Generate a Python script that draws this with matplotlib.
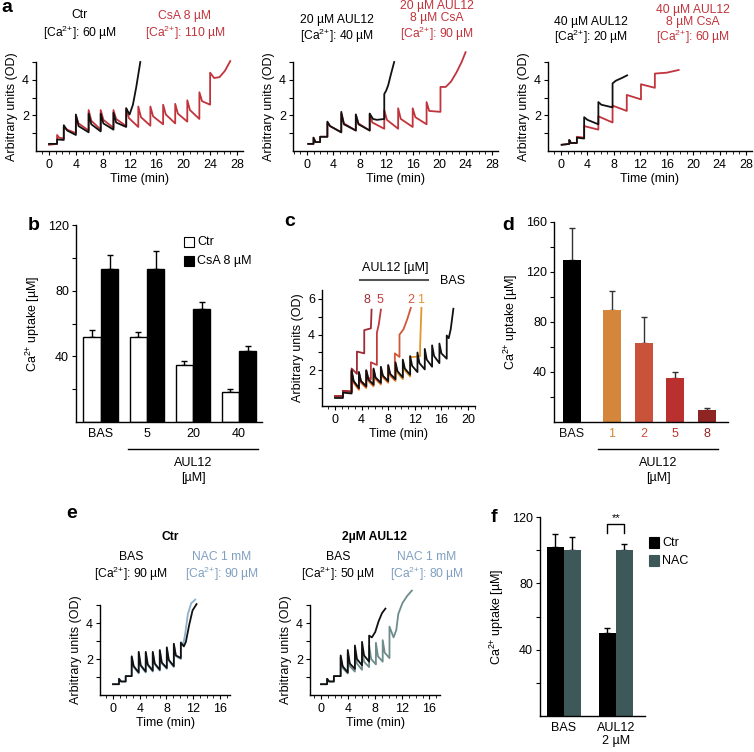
import numpy as np
import matplotlib
matplotlib.use('Agg')
import matplotlib.pyplot as plt
from matplotlib.lines import Line2D
from matplotlib.patches import Rectangle
from matplotlib.ticker import MultipleLocator

plt.rcParams.update({
    'font.family': ['Liberation Sans', 'DejaVu Sans'],
    'mathtext.fontset': 'custom',
    'mathtext.rm': 'Liberation Sans',
    'mathtext.it': 'Liberation Sans:italic',
    'mathtext.bf': 'Liberation Sans:bold',
    'font.size': 9,
    'axes.linewidth': 1.0,
    'xtick.major.size': 3, 'ytick.major.size': 3,
    'xtick.minor.size': 2, 'ytick.minor.size': 2,
    'xtick.major.pad': 2, 'ytick.major.pad': 2,
})

# ---------------- data ----------------
# panel a1
a1_ctr_t = [0.0, 1.2, 1.2, 2.2, 2.2, 2.7, 4.0, 4.0, 4.4, 5.9, 5.9, 6.3, 7.7, 7.7, 8.1, 9.6, 9.6, 10.0, 11.5, 11.5, 12.0, 12.5, 13.0, 13.6]
a1_ctr_y = [0.40, 0.40, 0.65, 0.62, 1.45, 1.15, 0.90, 2.05, 1.40, 1.05, 2.10, 1.50, 1.10, 2.10, 1.55, 1.20, 2.15, 1.60, 1.35, 2.40, 2.05, 2.60, 3.60, 5.00]
a1_csa_t = [0.0, 1.2, 1.2, 1.5, 2.2, 2.2, 2.7, 4.0, 4.0, 4.4, 5.9, 5.9, 6.3, 7.7, 7.7, 8.1, 9.6, 9.6, 10.0, 11.5, 11.5, 11.9, 13.3, 13.3, 13.7, 15.1, 15.1, 15.5, 17.0, 17.0, 17.4, 18.8, 18.8, 19.2, 20.6, 20.6, 21.0, 22.4, 22.4, 22.8, 24.0, 24.0, 24.6, 25.4, 26.2, 27.0]
a1_csa_y = [0.35, 0.40, 0.90, 0.75, 0.70, 1.35, 1.20, 1.00, 2.00, 1.55, 1.15, 2.30, 1.70, 1.20, 2.30, 1.75, 1.30, 2.30, 1.80, 1.40, 2.40, 1.85, 1.35, 2.50, 1.90, 1.42, 2.50, 1.95, 1.50, 2.60, 2.05, 1.55, 2.65, 2.10, 1.65, 2.85, 2.30, 1.80, 3.30, 2.80, 2.60, 4.40, 4.10, 4.15, 4.50, 5.05]
# panel a2
a2_ctr_t = [0.2, 1.0, 1.0, 1.3, 2.0, 2.0, 3.1, 3.1, 3.5, 5.2, 5.2, 5.6, 7.4, 7.4, 7.8, 9.5, 9.5, 10.0, 10.6, 11.7, 11.7, 12.0, 12.3, 12.7, 13.2]
a2_ctr_y = [0.40, 0.40, 0.75, 0.50, 0.50, 0.80, 0.80, 1.65, 1.40, 1.05, 2.20, 1.50, 1.15, 2.05, 1.50, 1.15, 2.10, 1.80, 1.75, 1.80, 3.20, 3.40, 3.70, 4.30, 5.00]
a2_csa_t = [0.2, 1.0, 1.0, 1.3, 2.0, 2.0, 3.1, 3.1, 3.5, 5.2, 5.2, 5.6, 7.4, 7.4, 7.8, 9.5, 9.5, 9.9, 11.7, 11.7, 12.1, 13.8, 13.8, 14.2, 16.0, 16.0, 16.4, 18.1, 18.1, 18.5, 20.2, 20.2, 21.0, 21.8, 22.6, 23.4, 24.0]
a2_csa_y = [0.40, 0.40, 0.75, 0.50, 0.50, 0.80, 0.80, 1.60, 1.40, 1.05, 2.10, 1.55, 1.15, 2.05, 1.55, 1.15, 2.10, 1.60, 1.25, 2.30, 1.75, 1.25, 2.40, 1.80, 1.35, 2.40, 1.90, 1.50, 2.75, 2.25, 2.20, 3.60, 3.60, 3.90, 4.40, 5.00, 5.55]
# panel a3
a3_ctr_t = [0.1, 1.25, 1.25, 1.5, 2.4, 2.4, 3.5, 3.5, 4.0, 5.65, 5.65, 6.1, 7.8, 7.8, 8.3, 9.2, 10.0]
a3_ctr_y = [0.35, 0.40, 0.62, 0.45, 0.45, 0.75, 0.70, 1.90, 1.75, 1.50, 2.75, 2.60, 2.45, 3.80, 3.95, 4.10, 4.25]
a3_csa_t = [0.1, 1.25, 1.25, 1.5, 2.4, 2.4, 3.5, 3.5, 5.65, 5.65, 7.8, 7.8, 9.95, 9.95, 12.1, 12.1, 14.2, 14.2, 16.0, 17.8]
a3_csa_y = [0.35, 0.40, 0.62, 0.45, 0.45, 0.80, 0.75, 1.40, 1.20, 1.95, 1.60, 2.55, 2.25, 3.15, 2.90, 3.75, 3.55, 4.35, 4.40, 4.55]

# panel b
b_groups = ['BAS', '5', '20', '40']
b_ctr = [52, 52, 35, 18]
b_ctr_err = [4, 3, 2, 2]
b_csa = [93, 93, 69, 43]
b_csa_err = [9, 11, 4, 3]

# panel c
c_bas_t = [0, 1.2, 1.2, 2.5, 2.5, 2.8, 3.6, 3.6, 3.9, 4.7, 4.7, 5.0, 5.8, 5.8, 6.1, 6.9, 6.9, 7.2, 8.0, 8.0, 8.3, 9.1, 9.1, 9.4, 10.2, 10.2, 10.5, 11.3, 11.3, 11.6, 12.4, 12.4, 12.7, 13.5, 13.5, 13.8, 14.6, 14.6, 14.9, 15.7, 15.7, 16.0, 16.8, 16.8, 17.1, 17.4, 17.8]
c_bas_y = [0.45, 0.45, 0.75, 0.70, 2.00, 1.40, 1.00, 1.90, 1.40, 1.10, 2.00, 1.50, 1.20, 2.10, 1.60, 1.30, 2.20, 1.70, 1.40, 2.30, 1.80, 1.50, 2.45, 1.95, 1.60, 2.60, 2.10, 1.75, 2.80, 2.25, 1.90, 3.00, 2.40, 2.05, 3.20, 2.60, 2.20, 3.40, 2.80, 2.40, 3.50, 2.95, 2.65, 3.95, 3.80, 4.30, 5.45]
c_1_t = [0, 1.2, 1.2, 2.5, 2.5, 2.8, 3.6, 3.6, 3.9, 4.7, 4.7, 5.0, 5.8, 5.8, 6.1, 6.9, 6.9, 7.2, 8.0, 8.0, 8.3, 9.1, 9.1, 9.4, 10.2, 10.2, 10.5, 11.3, 11.3, 12.0, 12.8, 12.8, 13.0]
c_1_y = [0.55, 0.55, 0.80, 0.75, 1.85, 1.30, 0.90, 1.80, 1.30, 1.00, 1.90, 1.40, 1.10, 2.00, 1.50, 1.20, 2.10, 1.60, 1.30, 2.20, 1.70, 1.40, 2.35, 1.85, 1.50, 2.50, 2.00, 1.65, 2.75, 2.75, 2.80, 3.40, 5.50]
c_2_t = [0, 1.2, 1.2, 2.5, 2.5, 2.8, 3.6, 3.6, 3.9, 4.7, 4.7, 5.0, 5.8, 5.8, 6.1, 6.9, 6.9, 7.2, 8.0, 8.0, 8.3, 9.0, 9.0, 9.7, 9.7, 10.3, 10.9, 11.4]
c_2_y = [0.55, 0.55, 0.85, 0.80, 1.90, 1.35, 0.95, 1.85, 1.35, 1.05, 1.95, 1.45, 1.15, 2.05, 1.55, 1.25, 2.15, 1.65, 1.35, 2.25, 1.75, 1.45, 2.95, 2.75, 4.00, 4.30, 4.90, 5.50]
c_5_t = [0, 1.2, 1.2, 2.5, 2.5, 2.8, 3.6, 3.6, 3.9, 4.7, 4.7, 5.0, 5.4, 5.4, 6.3, 6.3, 6.6, 6.9]
c_5_y = [0.55, 0.55, 0.85, 0.80, 1.95, 1.40, 1.00, 1.90, 1.40, 1.10, 2.00, 1.60, 1.50, 2.45, 2.30, 4.10, 4.60, 5.40]
c_8_t = [0, 1.2, 1.2, 2.5, 2.5, 3.3, 3.3, 4.4, 4.4, 5.4, 5.5]
c_8_y = [0.55, 0.55, 0.85, 0.80, 2.10, 1.80, 3.05, 2.95, 4.25, 4.35, 5.40]

# panel d
d_cats = ['BAS', '1', '2', '5', '8']
d_vals = [130, 90, 63, 35, 10]
d_err = [25, 15, 21, 5, 1]

# panel e1 (Ctr)
e1_bas_t = [0, 0.9, 0.9, 1.2, 1.9, 1.9, 2.8, 2.8, 3.1, 3.85, 3.85, 4.15, 4.9, 4.9, 5.2, 5.95, 5.95, 6.25, 7.0, 7.0, 7.3, 8.05, 8.05, 8.35, 9.1, 9.1, 9.4, 10.15, 10.15, 10.6, 10.9, 11.4, 11.9, 12.5]
e1_bas_y = [0.60, 0.60, 0.90, 0.75, 0.75, 1.05, 1.05, 2.15, 1.60, 1.25, 2.40, 1.65, 1.30, 2.40, 1.70, 1.35, 2.40, 1.75, 1.40, 2.50, 1.80, 1.50, 2.65, 1.95, 1.60, 2.85, 2.20, 2.05, 2.90, 2.70, 2.95, 3.90, 4.70, 5.05]
e1_nac_t = [0, 0.9, 0.9, 1.2, 1.9, 1.9, 2.8, 2.8, 3.1, 3.85, 3.85, 4.15, 4.9, 4.9, 5.2, 5.95, 5.95, 6.25, 7.0, 7.0, 7.3, 8.05, 8.05, 8.35, 9.1, 9.1, 9.4, 10.15, 10.15, 10.5, 10.8, 11.2, 11.7, 12.3]
e1_nac_y = [0.60, 0.60, 0.90, 0.75, 0.75, 1.05, 1.05, 2.10, 1.55, 1.20, 2.35, 1.60, 1.25, 2.35, 1.65, 1.30, 2.35, 1.70, 1.35, 2.45, 1.75, 1.45, 2.60, 1.90, 1.55, 2.80, 2.15, 2.00, 2.95, 2.80, 3.40, 4.50, 5.10, 5.30]
# panel e2 (2 uM AUL12)
e2_bas_t = [0, 0.9, 0.9, 1.2, 1.9, 1.9, 2.9, 2.9, 3.2, 3.95, 3.95, 4.25, 5.0, 5.0, 5.3, 6.05, 6.05, 6.35, 7.1, 7.1, 7.5, 8.0, 8.5, 9.0, 9.5]
e2_bas_y = [0.60, 0.60, 0.90, 0.75, 0.75, 1.05, 1.05, 2.20, 1.60, 1.25, 2.50, 1.75, 1.45, 2.75, 2.00, 1.65, 2.95, 2.20, 1.85, 3.30, 3.20, 3.50, 4.10, 4.55, 4.80]
e2_nac_t = [0, 0.9, 0.9, 1.2, 1.9, 1.9, 2.9, 2.9, 3.2, 3.95, 3.95, 4.25, 5.0, 5.0, 5.3, 6.05, 6.05, 6.35, 7.1, 7.1, 7.4, 8.1, 8.1, 8.4, 9.1, 9.1, 9.4, 10.1, 10.1, 10.7, 11.1, 11.4, 12.0, 12.7, 13.4]
e2_nac_y = [0.60, 0.60, 0.90, 0.75, 0.75, 1.05, 1.05, 2.10, 1.50, 1.20, 2.35, 1.60, 1.30, 2.50, 1.75, 1.40, 2.60, 1.85, 1.55, 2.75, 2.00, 1.70, 2.90, 2.15, 1.85, 3.05, 2.35, 2.05, 3.80, 3.20, 3.60, 4.50, 5.10, 5.50, 5.80]

# panel f
f_groups = ['BAS', 'AUL12\n2 µM']
f_ctr = [102, 50]
f_ctr_err = [8, 3]
f_nac = [100, 100]
f_nac_err = [8, 4]

# ---------------- styles ----------------
RED = '#c1343c'
BLK = '#111111'
NAC_TXT = '#7f9fc0'
NAC_E1 = '#8db0cc'
NAC_E2 = '#6e8c8c'
NAC_BAR = '#3e5859'
C_COLS = {'8': '#9e2a35', '5': '#c03a40', '2': '#d0583a', '1': '#e3952f'}
D_COLS = ['#000000', '#d4873a', '#c9523a', '#b9302f', '#8e2424']
D_TXT = ['#111111', '#d4873a', '#c9523a', '#b9302f', '#8e2424']

W, H = 754, 752
fig = plt.figure(figsize=(W / 100, H / 100), dpi=100)


def add_ax(l, t, r, b):
    ax = fig.add_axes([l / W, 1 - b / H, (r - l) / W, (b - t) / H])
    ax.spines['top'].set_visible(False)
    ax.spines['right'].set_visible(False)
    ax.patch.set_visible(False)
    return ax


def ftext(x, y, s, **kw):
    kw.setdefault('ha', 'center')
    kw.setdefault('va', 'center')
    fig.text(x / W, 1 - y / H, s, **kw)


def fline(x0, x1, y, **kw):
    fig.add_artist(Line2D([x0 / W, x1 / W], [1 - y / H, 1 - y / H], **kw))


def fsquare(x0, y0, x1, y1, fc, ec):
    fig.add_artist(Rectangle((x0 / W, 1 - y1 / H), (x1 - x0) / W, (y1 - y0) / H,
                             transform=fig.transFigure, facecolor=fc, edgecolor=ec, lw=0.8))


def trace_ax(l, t, r, b, xlim, ylim, yt, ytl, xt):
    ax = add_ax(l, t, r, b)
    ax.set_xlim(*xlim)
    ax.set_ylim(*ylim)
    ax.set_yticks(yt, ytl)
    ax.set_xticks(xt)
    ax.xaxis.set_minor_locator(MultipleLocator(1))
    ax.tick_params(axis='x', which='major', pad=3)
    ax.set_xlabel('Time (min)', labelpad=1)
    ax.set_ylabel('Arbitrary units (OD)', labelpad=3)
    return ax


LW = 1.3
CA = '[Ca$^{2{+}}$]'
TFS = 8.7   # title font size
TLS = 1.0   # title line spacing

# ---------------- panel a ----------------
ya = [1, 2, 3, 4, 5]
yal = ['', '2', '', '4', '']
xa = [0, 4, 8, 12, 16, 20, 24, 28]

ax = trace_ax(36, 62, 243, 151, (-1.94, 28.9), (0, 5), ya, yal, xa)
ax.plot(a1_csa_t, a1_csa_y, color=RED, lw=LW, clip_on=False)
ax.plot(a1_ctr_t, a1_ctr_y, color=BLK, lw=LW, clip_on=False)
ftext(80, 25.5, 'Ctr\n' + CA + ': 60 µM', fontsize=TFS, linespacing=1.2)
ftext(185, 26, 'CsA 8 µM\n' + CA + ': 110 µM', color=RED, fontsize=TFS, linespacing=1.15)

ax = trace_ax(293, 62, 498, 151, (-2.1, 28.9), (0, 5), ya, yal, xa)
ax.plot(a2_csa_t, a2_csa_y, color=RED, lw=LW, clip_on=False)
ax.plot(a2_ctr_t, a2_ctr_y, color=BLK, lw=LW, clip_on=False)
ftext(337, 29.5, '20 µM AUL12\n' + CA + ': 40 µM', fontsize=TFS, linespacing=TLS)
ftext(437, 21.5, '20 µM AUL12\n8 µM CsA\n' + CA + ': 90 µM', color=RED,
      fontsize=TFS, linespacing=TLS)

ax = trace_ax(548, 62, 752, 151, (-1.97, 28.9), (0, 5), ya, yal, xa)
ax.plot(a3_csa_t, a3_csa_y, color=RED, lw=LW, clip_on=False)
ax.plot(a3_ctr_t, a3_ctr_y, color=BLK, lw=LW, clip_on=False)
ftext(591, 31, '40 µM AUL12\n' + CA + ': 20 µM', fontsize=TFS, linespacing=TLS)
ftext(693, 25, '40 µM AUL12\n8 µM CsA\n' + CA + ': 60 µM', color=RED,
      fontsize=TFS, linespacing=TLS)

# ---------------- panel b ----------------
ax = add_ax(76, 225, 262, 422)
xb = np.arange(len(b_groups))
wb = 0.38
ax.bar(xb - wb / 2, b_ctr, wb, color='white', edgecolor='black', lw=1.0, zorder=2)
ax.bar(xb + wb / 2, b_csa, wb, color='black', edgecolor='black', lw=1.0, zorder=2)
ax.errorbar(xb - wb / 2, b_ctr, yerr=[[0] * 4, b_ctr_err], fmt='none', ecolor='black',
            elinewidth=1, capsize=2, capthick=1, zorder=1)
ax.errorbar(xb + wb / 2, b_csa, yerr=[[0] * 4, b_csa_err], fmt='none', ecolor='black',
            elinewidth=1, capsize=2, capthick=1, zorder=1)
ax.set_xlim(-0.543, 3.5)
ax.set_ylim(0, 120)
ax.set_yticks([20, 40, 60, 80, 100, 120], ['', '40', '', '80', '', '120'])
ax.set_xticks(xb, b_groups)
ax.tick_params(axis='x', length=0, pad=4)
ax.set_ylabel('Ca$^{2{+}}$ uptake [µM]', labelpad=4)
fsquare(184, 237, 194, 247, 'white', 'black')
ftext(197, 242, 'Ctr', ha='left')
fsquare(184, 256, 194, 266, 'black', 'black')
ftext(197, 261, 'CsA 8 µM', ha='left')
fline(128, 258, 449, color='black', lw=1.0)
ftext(193, 463, 'AUL12')
ftext(193, 478, '[µM]')

# ---------------- panel c ----------------
ax = trace_ax(322, 290, 475, 406, (-1.95, 21.05), (0, 6.5),
              [1, 2, 3, 4, 5, 6], ['', '2', '', '4', '', '6'], [0, 4, 8, 12, 16, 20])
ax.plot(c_1_t, c_1_y, color=C_COLS['1'], lw=LW, clip_on=False)
ax.plot(c_2_t, c_2_y, color=C_COLS['2'], lw=LW, clip_on=False)
ax.plot(c_5_t, c_5_y, color=C_COLS['5'], lw=LW, clip_on=False)
ax.plot(c_8_t, c_8_y, color=C_COLS['8'], lw=LW, clip_on=False)
ax.plot(c_bas_t, c_bas_y, color=BLK, lw=LW, clip_on=False)
ftext(395, 268, 'AUL12 [µM]')
fline(360, 428, 280, color='#555555', lw=1.5)
ftext(453, 281, 'BAS')
ftext(367, 300, '8', color=C_COLS['8'])
ftext(380, 300, '5', color=C_COLS['5'])
ftext(411, 300, '2', color=C_COLS['2'])
ftext(421, 300, '1', color=C_COLS['1'])

# ---------------- panel d ----------------
ax = add_ax(554, 222, 728, 422)
xd = [0, 1.27, 2.27, 3.27, 4.27]
wd = 0.57
ax.errorbar(xd, d_vals, yerr=[[0] * 5, d_err], fmt='none', ecolor='#333333',
            elinewidth=1, capsize=2, capthick=1, zorder=1)
ax.bar(xd, d_vals, wd, color=D_COLS, zorder=2)
ax.set_xlim(-0.571, 4.95)
ax.set_ylim(0, 160)
ax.set_yticks([20, 40, 60, 80, 100, 120, 140, 160], ['', '40', '', '80', '', '120', '', '160'])
ax.set_xticks(xd, d_cats)
ax.tick_params(axis='x', length=0, pad=4)
for lbl, c in zip(ax.get_xticklabels(), D_TXT):
    lbl.set_color(c)
ax.set_ylabel('Ca$^{2{+}}$ uptake [µM]', labelpad=4)
fline(598, 718, 449, color='black', lw=1.0)
ftext(658, 463, 'AUL12')
ftext(658, 478, '[µM]')

# ---------------- panel e ----------------
ye = [1, 2, 3, 4, 5]
yel = ['', '2', '', '4', '']
ax = trace_ax(100, 605, 230, 695, (-1.94, 17.5), (0, 5), ye, yel, [0, 4, 8, 12, 16])
ax.plot(e1_nac_t, e1_nac_y, color=NAC_E1, lw=LW, clip_on=False)
ax.plot(e1_bas_t, e1_bas_y, color=BLK, lw=LW, clip_on=False)
ftext(170, 537, 'Ctr', fontweight='bold', fontsize=TFS)
ftext(131, 567, 'BAS\n' + CA + ': 90 µM', fontsize=TFS, linespacing=1.2)
ftext(222, 567, 'NAC 1 mM\n' + CA + ': 90 µM', color=NAC_TXT, fontsize=TFS, linespacing=1.2)

ax = trace_ax(310, 605, 440, 695, (-1.62, 17.55), (0, 5), ye, yel, [0, 4, 8, 12, 16])
ax.plot(e2_nac_t, e2_nac_y, color=NAC_E2, lw=LW, clip_on=False)
ax.plot(e2_bas_t, e2_bas_y, color=BLK, lw=LW, clip_on=False)
ftext(375, 537, '2µM AUL12', fontweight='bold', fontsize=TFS)
ftext(338, 567, 'BAS\n' + CA + ': 50 µM', fontsize=TFS, linespacing=1.2)
ftext(427, 567, 'NAC 1 mM\n' + CA + ': 80 µM', color=NAC_TXT, fontsize=TFS, linespacing=1.2)

# ---------------- panel f ----------------
ax = add_ax(540, 517, 645, 716)
xf = np.arange(len(f_groups))
wf = 0.327
ax.errorbar(xf - wf / 2, f_ctr, yerr=[[0] * 2, f_ctr_err], fmt='none', ecolor='black',
            elinewidth=1, capsize=2, capthick=1, zorder=1)
ax.errorbar(xf + wf / 2, f_nac, yerr=[[0] * 2, f_nac_err], fmt='none', ecolor='black',
            elinewidth=1, capsize=2, capthick=1, zorder=1)
ax.bar(xf - wf / 2, f_ctr, wf, color='black', zorder=2)
ax.bar(xf + wf / 2, f_nac, wf, color=NAC_BAR, zorder=2)
ax.set_xlim(-0.46, 1.56)
ax.set_ylim(0, 120)
ax.set_yticks([20, 40, 60, 80, 100, 120], ['', '40', '', '80', '', '120'])
ax.set_xticks(xf, f_groups)
ax.tick_params(axis='x', length=0, pad=4)
ax.set_ylabel('Ca$^{2{+}}$ uptake [µM]', labelpad=4)
ax.plot([1 - wf / 2, 1 - wf / 2, 1 + wf / 2, 1 + wf / 2], [110.5, 115.5, 115.5, 110.5],
        color='black', lw=1.0, clip_on=False)
ax.text(1, 116.5, '**', ha='center', va='bottom', fontsize=8)
fsquare(649, 537, 659, 548, 'black', 'black')
ftext(662, 543, 'Ctr', ha='left')
fsquare(649, 555, 659, 566, NAC_BAR, NAC_BAR)
ftext(662, 561, 'NAC', ha='left')

# ---------------- panel letters ----------------
for x, y, s in [(7, 7, 'a'), (34, 225, 'b'), (290, 222, 'c'), (508, 225, 'd'),
                (72, 513, 'e'), (494, 518, 'f')]:
    ftext(x, y, s, fontsize=14, fontweight='bold')

fig.savefig('out.png', dpi=100)
